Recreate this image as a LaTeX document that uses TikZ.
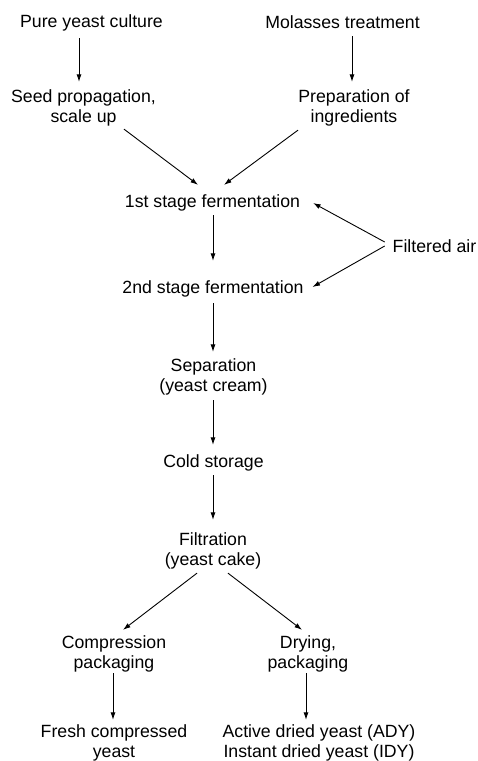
\documentclass[tikz,border=0pt]{standalone}
\usepackage{fontspec}
\setmainfont{Liberation Sans}
\usetikzlibrary{arrows.meta,calc}
\begin{document}
\begin{tikzpicture}[x=1pt,y=-1pt,
  lbl/.style={inner sep=0pt,outer sep=0pt,align=center,text=black,
    font=\fontsize{17.7pt}{20pt}\selectfont},
  arr/.style={draw=black,line width=0.9pt,-{Latex[length=7.5pt,width=5pt]}}]
\useasboundingbox[fill=white] (0,0) rectangle (478,761);
% nodes
\node[lbl] (pyc) at (91.5,22.6) {Pure yeast culture};
\node[lbl] (mol) at (342.5,22.6) {Molasses treatment};
\node[lbl] (seed) at (83.5,107.6) {Seed propagation,\\scale up};
\node[lbl] (prep) at (354,107.6) {Preparation of\\ingredients};
\node[lbl] (first) at (212.5,202.6) {1st stage fermentation};
\node[lbl] (air) at (434.5,246.3) {Filtered air};
\node[lbl] (second) at (213,288.6) {2nd stage fermentation};
\node[lbl] (sep) at (213.5,376.6) {Separation\\(yeast cream)};
\node[lbl] (cold) at (213.5,462.6) {Cold storage};
\node[lbl] (filt) at (213,550.6) {Filtration\\(yeast cake)};
\node[lbl] (comp) at (114,653.6) {Compression\\packaging};
\node[lbl] (dry) at (308,653.6) {Drying,\\packaging};
\node[lbl] (fresh) at (114,742.6) {Fresh compressed\\yeast};
\node[lbl] (ady) at (319,742.6) {Active dried yeast (ADY)\\Instant dried yeast (IDY)};
% connectors
\draw[arr,shorten <=7.3pt,shorten >=7.5pt] (pyc.south -| 79,0) -- (seed.north -| 79,0);
\draw[arr,shorten <=7.3pt,shorten >=7.5pt] (mol.south -| 352,0) -- (prep.north -| 352,0);
\draw[arr] ($(seed.south)+(40.5,3.3)$) -- ($(first.north)+(-14.5,-9.5)$);
\draw[arr] ($(prep.south)+(-56,4.3)$) -- ($(first.north)+(11.5,-9.5)$);
\draw[arr,shorten <=4.3pt,shorten >=19.5pt] (first.south -| 213,0) -- (second.north -| 213,0);
\draw[arr] ($(air.west)+(-8,-4.3)$) -- ($(first.east)+(13,0.4)$);
\draw[arr] ($(air.west)+(-8,-0.3)$) -- ($(second.east)+(9,-1.6)$);
\draw[arr,shorten <=6.3pt,shorten >=6.5pt] (second.south -| 213,0) -- (sep.north -| 213,0);
\draw[arr,shorten <=5.3pt,shorten >=9.5pt] (sep.south -| 213,0) -- (cold.north -| 213,0);
\draw[arr,shorten <=4.3pt,shorten >=12.5pt] (cold.south -| 213,0) -- (filt.north -| 213,0);
\draw[arr] ($(filt.south)+(-16,4.3)$) -- ($(comp.north)+(9,-5.5)$);
\draw[arr] ($(filt.south)+(15,4.3)$) -- ($(dry.north)+(-6,-5.5)$);
\draw[arr,shorten <=1.3pt,shorten >=4.5pt] (comp.south -| 113,0) -- (fresh.north -| 113,0);
\draw[arr,shorten <=1.3pt,shorten >=4.5pt] (dry.south -| 306,0) -- (ady.north -| 306,0);
\end{tikzpicture}
\end{document}
